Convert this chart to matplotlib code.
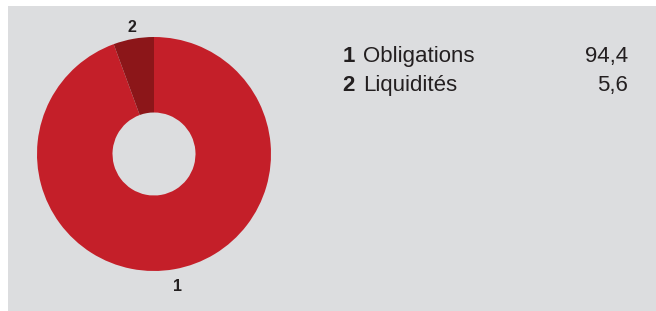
import numpy as np
import matplotlib.pyplot as plt
from matplotlib.patches import Rectangle

plt.rcParams['font.family'] = ['Liberation Sans', 'DejaVu Sans']

numbers = ['1', '2']
categories = ['Obligations', 'Liquidités']
values = [94.4, 5.6]
value_labels = ['94,4', '5,6']
colors = ['#c41f29', '#8c1619']
panel_color = '#dcdddf'

fig = plt.figure(figsize=(6.56, 3.11), dpi=100)
fig.patch.set_facecolor('white')
ax = fig.add_axes([0, 0, 1, 1])

# pixel-like coordinates, y up
cx, cy, r_out, r_in = 154, 157, 117, 41.5
wedges, _ = ax.pie(values, colors=colors, startangle=90, counterclock=False,
                   center=(cx, cy), radius=r_out,
                   wedgeprops=dict(width=r_out - r_in, linewidth=0))
ax.set_xlim(0, 656)
ax.set_ylim(0, 311)
ax.set_aspect('equal')
ax.axis('off')

ax.add_patch(Rectangle((8, 0), 656 - 8, 305, facecolor=panel_color,
                       edgecolor='none', zorder=0))

label_dist = [134.5, 128]
for w, num, d in zip(wedges, numbers, label_dist):
    mid = np.deg2rad((w.theta1 + w.theta2) / 2)
    ax.text(cx + d * np.cos(mid), cy + d * np.sin(mid), num, ha='center',
            va='center', fontsize=11.5, fontweight='bold', color='#231f20')

row_y = [311 - 62.3, 311 - 90.7]
for y, num, cat, val in zip(row_y, numbers, categories, value_labels):
    ax.text(342.5, y, num, ha='left', va='baseline', fontsize=16,
            fontweight='bold', color='#231f20')
    ax.text(363.5, y, cat, ha='left', va='baseline', fontsize=16,
            color='#231f20')
    ax.text(628, y, val, ha='right', va='baseline', fontsize=16,
            color='#231f20')

fig.savefig('out.png', dpi=100, facecolor=fig.get_facecolor())
